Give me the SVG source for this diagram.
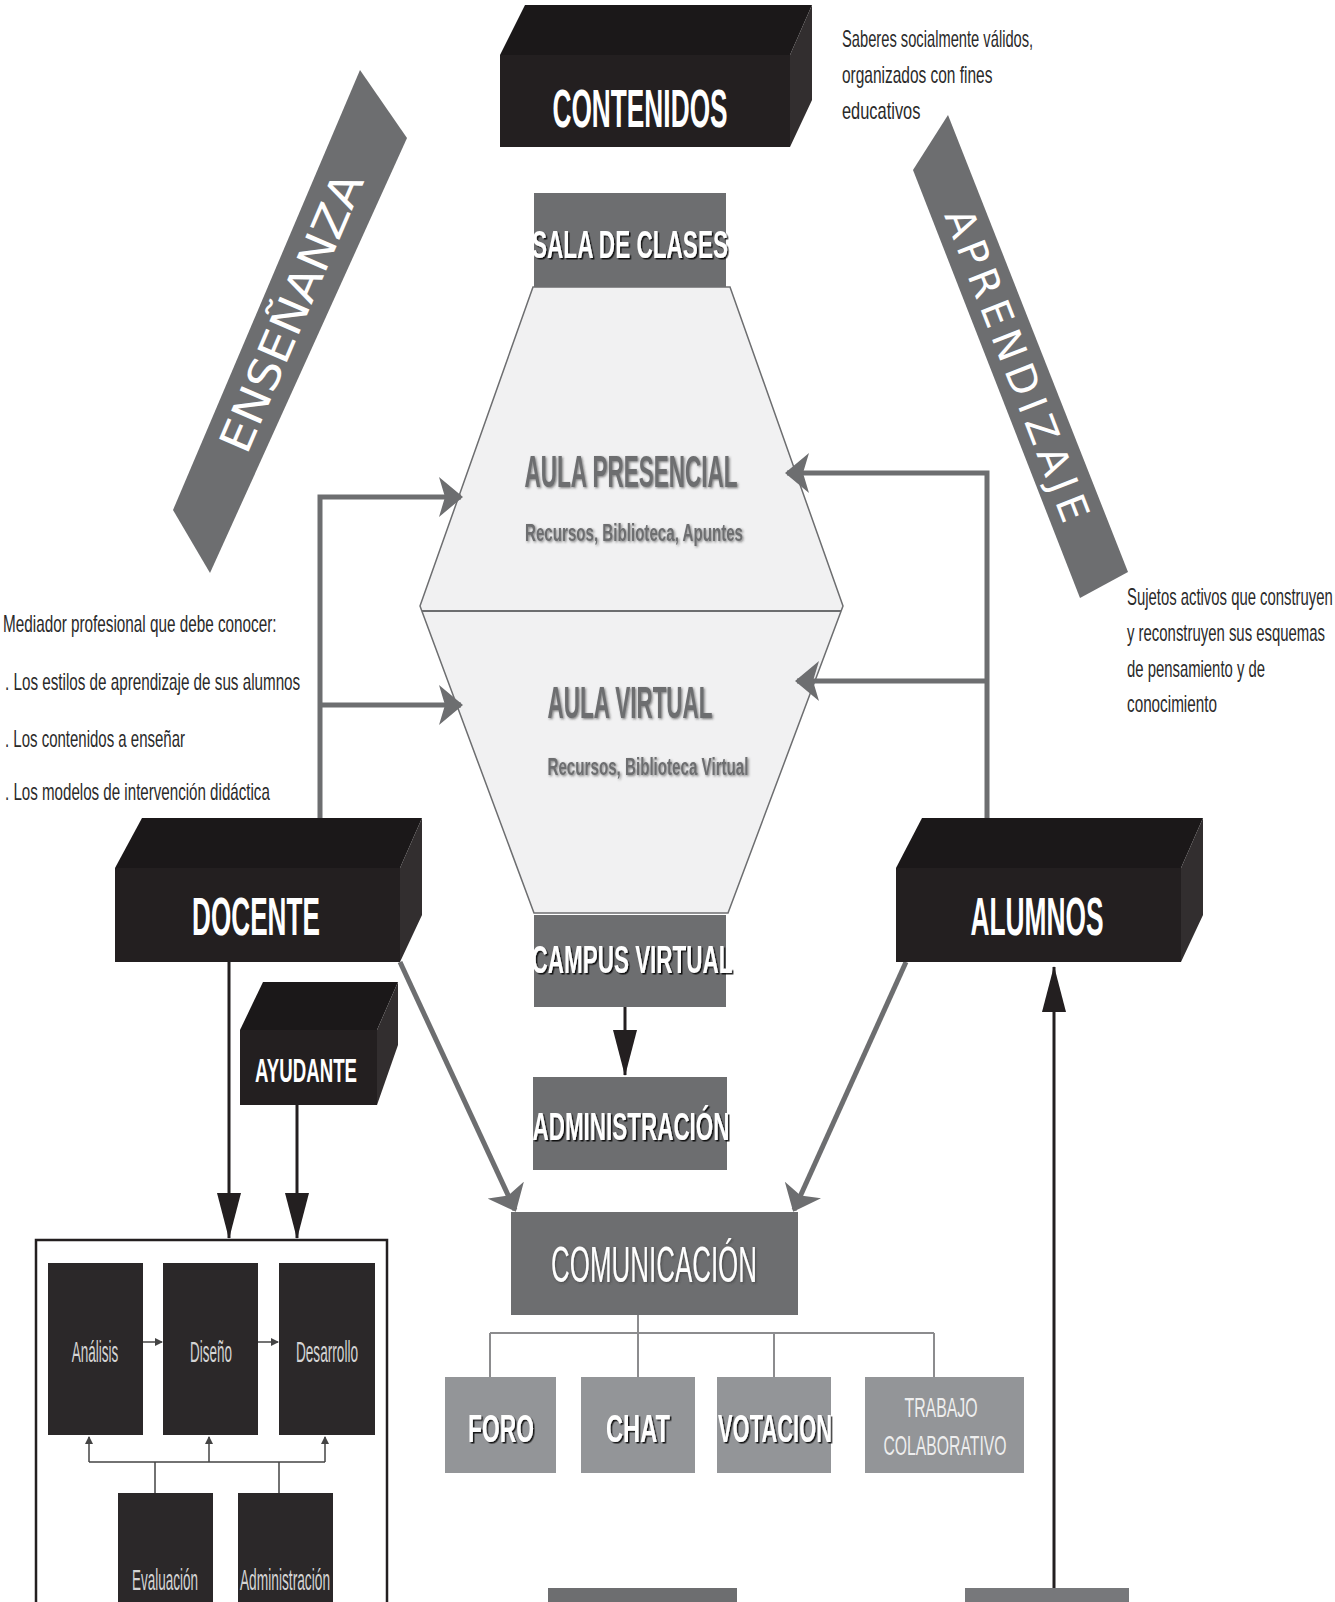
<svg xmlns="http://www.w3.org/2000/svg" width="1335" height="1602" viewBox="0 0 1335 1602">
<style>
.n{font-family:"Liberation Sans Narrow","Liberation Sans",Arial,sans-serif}
.w{fill:#ffffff}
.b{font-weight:bold}
.note{font-family:"Liberation Sans Narrow","Liberation Sans",Arial,sans-serif;font-size:23px;fill:#2a2a2a}
.band{fill:#6d6e70}
.bandt{font-family:"DejaVu Sans",Verdana,sans-serif;fill:#ffffff}
.front{fill:#231f20}
.top{fill:#1b1819}
.side{fill:#322e2f}
.gbox{fill:#6d6e70}
.lbox{fill:#939598}
.dbox{fill:#2b2829}
.gline{fill:none;stroke:#6d6e70;stroke-width:5}
.dline{fill:none;stroke:#231f20;stroke-width:3}
.tline{fill:none;stroke:#8c8c8e;stroke-width:2}
.sline{fill:none;stroke:#444;stroke-width:1.5}
.small{font-family:"Liberation Sans Narrow","Liberation Sans",Arial,sans-serif;font-size:30px;fill:#d4d4d4}
.aula{font-family:"Liberation Sans Narrow","Liberation Sans",Arial,sans-serif;font-weight:bold;fill:#6d6e70}
</style>
<defs>
<filter id="sh" x="-10%" y="-30%" width="120%" height="160%"><feDropShadow dx="1.5" dy="1.5" stdDeviation="0.7" flood-color="#000" flood-opacity="0.85"/></filter>
<filter id="sh2" x="-10%" y="-30%" width="120%" height="160%"><feDropShadow dx="1.2" dy="1.2" stdDeviation="0.8" flood-color="#333" flood-opacity="0.6"/></filter>
<marker id="ga" viewBox="0 0 24 40" refX="22" refY="20" markerWidth="24" markerHeight="40" markerUnits="userSpaceOnUse" orient="auto"><path d="M0,0 L24,20 L0,40 L6,20 z" fill="#6d6e70"/></marker>
<marker id="da" viewBox="0 0 46 24" refX="45" refY="12" markerWidth="46" markerHeight="24" markerUnits="userSpaceOnUse" orient="auto"><path d="M0,0 L46,12 L0,24 z" fill="#231f20"/></marker>
<marker id="sa" viewBox="0 0 8 8" refX="7" refY="4" markerWidth="8" markerHeight="8" markerUnits="userSpaceOnUse" orient="auto"><path d="M0,0 L8,4 L0,8 z" fill="#444"/></marker>
</defs>
<rect width="1335" height="1602" fill="#ffffff"/>

<g id="ensenanza">
<polygon class="band" points="360,70 407,138 210,573 173,510"/>
<text class="bandt" font-size="44" x="291" y="328" text-anchor="middle" textLength="299" lengthAdjust="spacingAndGlyphs" transform="rotate(-66.8 291 312)">ENSEÑANZA</text>
</g>
<g id="aprendizaje">
<polygon class="band" points="948,115 1128,572 1080,598 913,170"/>
<text class="bandt" font-size="40" x="1017" y="379" text-anchor="middle" textLength="332" lengthAdjust="spacing" transform="rotate(68.8 1017 365)">APRENDIZAJE</text>
</g>

<g id="contenidos">
<polygon class="top" points="500,55 525,5 812,5 790,55"/>
<polygon class="side" points="790,55 812,5 812,100 790,147"/>
<rect class="front" x="500" y="55" width="290" height="92"/>
<text class="n b w" font-size="54" text-anchor="middle" transform="translate(640 127) scale(0.6 1)" textLength="292" lengthAdjust="spacingAndGlyphs">CONTENIDOS</text>
</g>
<g id="saberes-note">
<text class="note" transform="translate(842 47) scale(0.8 1)" textLength="239" lengthAdjust="spacingAndGlyphs">Saberes socialmente válidos,</text>
<text class="note" transform="translate(842 83) scale(0.8 1)" textLength="188" lengthAdjust="spacingAndGlyphs">organizados con fines</text>
<text class="note" transform="translate(842 119) scale(0.8 1)" textLength="98" lengthAdjust="spacingAndGlyphs">educativos</text>
</g>

<g id="aula">
<polygon points="533,287 730,287 843,606 728,913 534,913 420,606" fill="#f1f1f2" stroke="#6d6e70" stroke-width="1.5"/>
<line x1="422" y1="611" x2="841" y2="611" stroke="#6d6e70" stroke-width="2"/>
<text class="aula" x="631" y="487" font-size="44" text-anchor="middle" textLength="213" lengthAdjust="spacingAndGlyphs" filter="url(#sh2)">AULA PRESENCIAL</text>
<text class="aula" x="634" y="541" font-size="24" text-anchor="middle" textLength="218" lengthAdjust="spacingAndGlyphs" filter="url(#sh2)">Recursos, Biblioteca, Apuntes</text>
<text class="aula" x="630" y="718" font-size="44" text-anchor="middle" textLength="165" lengthAdjust="spacingAndGlyphs" filter="url(#sh2)">AULA VIRTUAL</text>
<text class="aula" x="648" y="775" font-size="24" text-anchor="middle" textLength="201" lengthAdjust="spacingAndGlyphs" filter="url(#sh2)">Recursos, Biblioteca Virtual</text>
</g>

<g id="sala">
<rect class="gbox" x="534" y="193" width="192" height="94"/>
<text class="n b w" x="630" y="258" font-size="38" text-anchor="middle" textLength="196" lengthAdjust="spacingAndGlyphs" filter="url(#sh)">SALA DE CLASES</text>
</g>
<g id="campus">
<rect class="gbox" x="534" y="915" width="192" height="92"/>
<text class="n b w" x="632" y="973" font-size="38" text-anchor="middle" textLength="201" lengthAdjust="spacingAndGlyphs" filter="url(#sh)">CAMPUS VIRTUAL</text>
</g>
<g id="administracion">
<rect class="gbox" x="533" y="1077" width="194" height="93"/>
<text class="n b w" x="631" y="1140" font-size="38" text-anchor="middle" textLength="197" lengthAdjust="spacingAndGlyphs" filter="url(#sh)">ADMINISTRACIÓN</text>
</g>

<g id="docente-note">
<text class="note" transform="translate(3 632) scale(0.8 1)" textLength="342" lengthAdjust="spacingAndGlyphs">Mediador profesional que debe conocer:</text>
<text class="note" transform="translate(5 690) scale(0.8 1)" textLength="369" lengthAdjust="spacingAndGlyphs">. Los estilos de aprendizaje de sus alumnos</text>
<text class="note" transform="translate(5 747) scale(0.8 1)" textLength="225" lengthAdjust="spacingAndGlyphs">. Los contenidos a enseñar</text>
<text class="note" transform="translate(5 800) scale(0.8 1)" textLength="331" lengthAdjust="spacingAndGlyphs">. Los modelos de intervención didáctica</text>
</g>
<g id="alumnos-note">
<text class="note" transform="translate(1127 605) scale(0.6 1)" textLength="343" lengthAdjust="spacingAndGlyphs">Sujetos activos que construyen</text>
<text class="note" transform="translate(1127 641) scale(0.6 1)" textLength="330" lengthAdjust="spacingAndGlyphs">y reconstruyen sus esquemas</text>
<text class="note" transform="translate(1127 677) scale(0.6 1)" textLength="230" lengthAdjust="spacingAndGlyphs">de pensamiento y de</text>
<text class="note" transform="translate(1127 712) scale(0.6 1)" textLength="150" lengthAdjust="spacingAndGlyphs">conocimiento</text>
</g>

<g id="connectors">
<path class="gline" d="M320,818 V497 H461" marker-end="url(#ga)"/>
<path class="gline" d="M320,705 H461" marker-end="url(#ga)"/>
<path class="gline" d="M987,818 V473 H787" marker-end="url(#ga)"/>
<path class="gline" d="M987,681 H797" marker-end="url(#ga)"/>
<path class="gline" d="M400,962 L515,1210" marker-end="url(#ga)"/>
<path class="gline" d="M906,962 L794,1210" marker-end="url(#ga)"/>
<path class="dline" d="M625,1007 V1075" marker-end="url(#da)"/>
<path class="dline" d="M229,962 V1238" marker-end="url(#da)"/>
<path class="dline" d="M297,1105 V1238" marker-end="url(#da)"/>
<path class="dline" d="M1054,1602 V967" stroke-width="2.5" marker-end="url(#da)"/>
<path class="tline" d="M638,1315 V1333 M490,1333 H934 M490,1333 V1377 M638,1333 V1377 M774,1333 V1377 M934,1333 V1377"/>
<path class="sline" d="M143,1342 H162" marker-end="url(#sa)"/>
<path class="sline" d="M258,1342 H278" marker-end="url(#sa)"/>
<path class="sline" d="M89,1462 H325 M155,1462 V1493 M279,1462 V1493"/>
<path class="sline" d="M89,1462 V1437" marker-end="url(#sa)"/>
<path class="sline" d="M209,1462 V1437" marker-end="url(#sa)"/>
<path class="sline" d="M325,1462 V1437" marker-end="url(#sa)"/>
</g>

<g id="docente">
<polygon class="top" points="115,868 142,818 422,818 400,868"/>
<polygon class="side" points="400,868 422,818 422,915 400,962"/>
<rect class="front" x="115" y="868" width="285" height="94"/>
<text class="n b w" font-size="54" text-anchor="middle" transform="translate(256 935) scale(0.6 1)" textLength="213" lengthAdjust="spacingAndGlyphs">DOCENTE</text>
</g>
<g id="alumnos">
<polygon class="top" points="896,868 922,818 1203,818 1181,868"/>
<polygon class="side" points="1181,868 1203,818 1203,915 1181,962"/>
<rect class="front" x="896" y="868" width="285" height="94"/>
<text class="n b w" font-size="54" text-anchor="middle" transform="translate(1037 935) scale(0.6 1)" textLength="222" lengthAdjust="spacingAndGlyphs">ALUMNOS</text>
</g>
<g id="ayudante">
<polygon class="top" points="240,1030 263,982 398,982 377,1030"/>
<polygon class="side" points="377,1030 398,982 398,1045 377,1105"/>
<rect class="front" x="240" y="1030" width="137" height="75"/>
<text class="n b w" x="306" y="1082" font-size="34" text-anchor="middle" textLength="102" lengthAdjust="spacingAndGlyphs">AYUDANTE</text>
</g>

<g id="comunicacion">
<rect class="gbox" x="511" y="1212" width="287" height="103"/>
<text class="n w" x="654" y="1282" font-size="50" text-anchor="middle" textLength="206" lengthAdjust="spacingAndGlyphs" filter="url(#sh2)">COMUNICACIÓN</text>
</g>
<g id="foro">
<rect class="lbox" x="445" y="1377" width="111" height="96"/>
<text class="n b w" x="501" y="1442" font-size="38" text-anchor="middle" textLength="66" lengthAdjust="spacingAndGlyphs" filter="url(#sh)">FORO</text>
</g>
<g id="chat">
<rect class="lbox" x="581" y="1377" width="114" height="96"/>
<text class="n b w" x="638" y="1442" font-size="38" text-anchor="middle" textLength="64" lengthAdjust="spacingAndGlyphs" filter="url(#sh)">CHAT</text>
</g>
<g id="votacion">
<rect class="lbox" x="717" y="1377" width="114" height="96"/>
<text class="n b w" x="775" y="1442" font-size="38" text-anchor="middle" textLength="114" lengthAdjust="spacingAndGlyphs" filter="url(#sh)">VOTACION</text>
</g>
<g id="trabajo">
<rect class="lbox" x="865" y="1377" width="159" height="96"/>
<text class="n" fill="#eeeeee" x="941" y="1417" font-size="28" text-anchor="middle" textLength="73" lengthAdjust="spacingAndGlyphs">TRABAJO</text>
<text class="n" fill="#eeeeee" x="945" y="1455" font-size="28" text-anchor="middle" textLength="123" lengthAdjust="spacingAndGlyphs">COLABORATIVO</text>
</g>

<g id="proceso">
<rect x="36" y="1240" width="351" height="380" fill="none" stroke="#231f20" stroke-width="2.5"/>
</g>
<g id="analisis">
<rect class="dbox" x="48" y="1263" width="95" height="172"/>
<text class="small" text-anchor="middle" transform="translate(95 1362) scale(0.55 1)" textLength="85" lengthAdjust="spacingAndGlyphs">Análisis</text>
</g>
<g id="diseno">
<rect class="dbox" x="163" y="1263" width="95" height="172"/>
<text class="small" text-anchor="middle" transform="translate(211 1362) scale(0.55 1)" textLength="76" lengthAdjust="spacingAndGlyphs">Diseño</text>
</g>
<g id="desarrollo">
<rect class="dbox" x="279" y="1263" width="96" height="172"/>
<text class="small" text-anchor="middle" transform="translate(327 1362) scale(0.55 1)" textLength="113" lengthAdjust="spacingAndGlyphs">Desarrollo</text>
</g>
<g id="evaluacion">
<rect class="dbox" x="118" y="1493" width="95" height="120"/>
<text class="small" text-anchor="middle" transform="translate(165 1590) scale(0.55 1)" textLength="120" lengthAdjust="spacingAndGlyphs">Evaluación</text>
</g>
<g id="administracion-proceso">
<rect class="dbox" x="238" y="1493" width="95" height="120"/>
<text class="small" text-anchor="middle" transform="translate(285 1590) scale(0.55 1)" textLength="164" lengthAdjust="spacingAndGlyphs">Administración</text>
</g>

<g id="bottom-left">
<rect class="gbox" x="548" y="1588" width="189" height="20"/>
</g>
<g id="bottom-right">
<rect fill="#77787b" x="965" y="1588" width="164" height="20"/>
</g>
</svg>
